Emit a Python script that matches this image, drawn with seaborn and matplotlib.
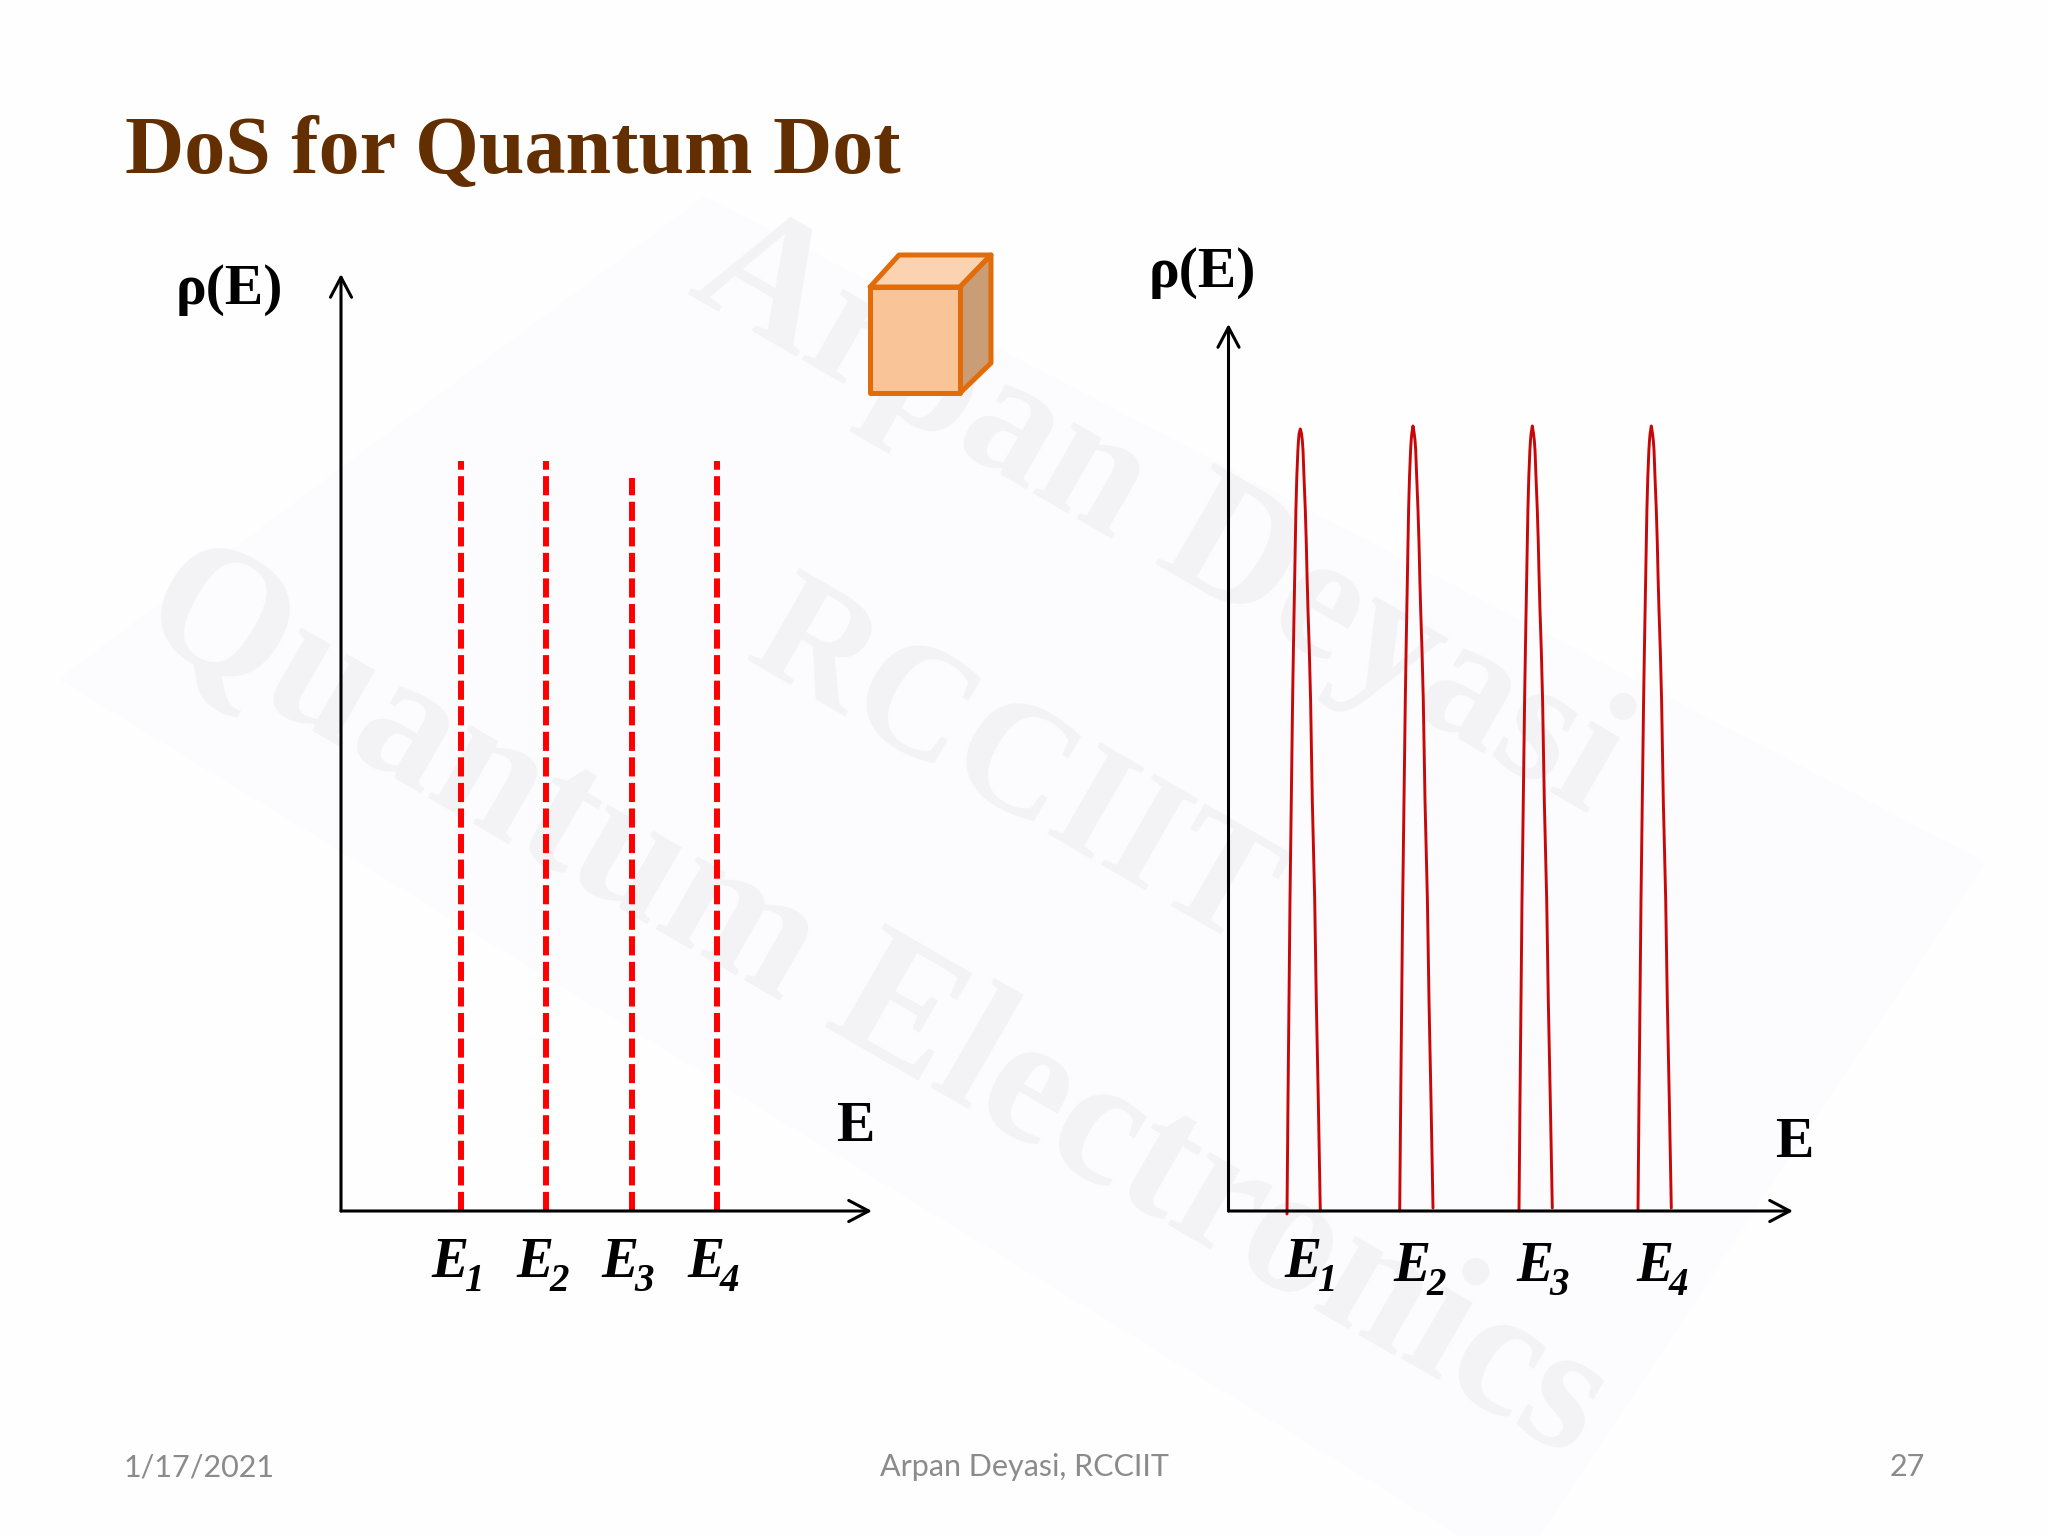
import pandas as pd
import matplotlib.pyplot as plt
import seaborn as sns
from matplotlib.patches import Polygon

# niveis discretos (painel esquerdo)
levels = [1, 2, 3, 4]
level_heights = [1.0, 1.0, 0.977, 1.0]

# picos (painel direito)
peak_centers = [0.718, 1.845, 3.038, 4.228]
peak_tops = [1.043, 1.047, 1.047, 1.047]
left_base = [-0.004, 0.0, 0.0, 0.0]
right_base = [0.0, 0.004, 0.004, 0.004]
profile_rho = [0.148, 0.281, 0.415, 0.548, 0.681, 0.748, 0.801, 0.845, 0.891, 0.935, 0.979, 1.015, 1.028, 1.037]
profile_left = [-0.123, -0.113, -0.103, -0.090, -0.077, -0.069, -0.062, -0.056, -0.050, -0.044, -0.035, -0.024, -0.018, -0.012]
profile_right = [0.180, 0.160, 0.144, 0.120, 0.103, 0.090, 0.077, 0.068, 0.060, 0.050, 0.037, 0.027, 0.020, 0.012]
base_left = -0.133
base_right = 0.200

level_labels = ["1", "2", "3", "4"]
title = "DoS for Quantum Dot"
footer_date = "1/17/2021"
footer_author = "Arpan Deyasi, RCCIIT"
footer_page = "27"

W, H = 2048, 1536
sns.set_theme(style="white")
plt.rcParams["font.family"] = ["Liberation Serif", "DejaVu Serif"]


def px_axes(fig, left, top, right, bottom):
    ax = fig.add_axes([left / W, 1 - bottom / H, (right - left) / W, (bottom - top) / H])
    ax.patch.set_alpha(0)
    ax.set_xticks([])
    ax.set_yticks([])
    sns.despine(ax=ax, left=True, bottom=True)
    return ax


def arrow(ax, start, end):
    ax.annotate("", xy=end, xytext=start, xycoords="axes fraction", textcoords="axes fraction",
                annotation_clip=False,
                arrowprops=dict(arrowstyle="->,head_length=0.72,head_width=0.38", mutation_scale=20,
                                lw=2.2, color="black", shrinkA=0, shrinkB=0))


fig = plt.figure(figsize=(W / 100, H / 100), dpi=100, facecolor="#fefefe")

# fundo: marca d'agua, titulo, cubo, rodape (em pixels)
bg = px_axes(fig, 0, 0, W, H)
bg.set_xlim(0, W)
bg.set_ylim(H, 0)
bg.add_patch(Polygon([(59, 679), (705, 196), (1985, 862), (1540, 1536), (1460, 1536)],
                     closed=True, fc="#fcfbfd", ec="none", zorder=0))
wm = dict(color="#f3f2f4", fontweight="bold", rotation=-30, rotation_mode="anchor",
          ha="center", va="center", zorder=0.5)
bg.text(875, 1005, "Quantum Electronics", fontsize=131, **wm)
bg.text(1012, 770, "RCCIIT", fontsize=115, **wm)
bg.text(1159, 516, "Arpan Deyasi", fontsize=128, **wm)

bg.text(125, 172.7, title, fontsize=59, fontweight="bold", color="#632F00", va="baseline")

edge = dict(ec="#E36C0A", lw=3.6, joinstyle="round", zorder=2)
bg.add_patch(Polygon([(870, 287), (899, 255), (991, 255), (960, 287)], fc="#FBD3B0", **edge))
bg.add_patch(Polygon([(960, 287), (991, 255), (991, 363), (960, 393)], fc="#C99E77", **edge))
bg.add_patch(Polygon([(870, 287), (960, 287), (960, 393), (870, 393)], fc="#F9C498", **edge))

foot = dict(fontsize=22, color="#8B8B8B", family="Lato", va="baseline")
bg.text(124, 1476, footer_date, ha="left", **foot)
bg.text(1025, 1476, footer_author, ha="center", **foot)
bg.text(1925, 1476, footer_page, ha="right", **foot)

# painel esquerdo
ax1 = px_axes(fig, 341, 274, 872, 1211)
df1 = pd.DataFrame({
    "E": [e for e in levels for _ in range(2)],
    "rho": [v for h in level_heights for v in (0, h)],
    "level": [e for e in levels for _ in range(2)],
})
sns.lineplot(data=df1, x="E", y="rho", units="level", estimator=None, sort=False, ax=ax1,
             color="#FF0000", lw=4.3, linestyle=(0, (3.2, 1.08)))
ax1.set_xlim(-0.406, 5.817)
ax1.set_ylim(0, 1.249)
ax1.set_xlabel("")
ax1.set_ylabel("")
arrow(ax1, (0, 0), (1, 0))
arrow(ax1, (0, 0), (0, 1))

# painel direito
ax2 = px_axes(fig, 1228.5, 324, 1793, 1211)
rows = []
for i, c in enumerate(peak_centers):
    xs = [base_left] + profile_left + [0.0] + profile_right[::-1] + [base_right]
    ys = [left_base[i]] + profile_rho + [peak_tops[i]] + profile_rho[::-1] + [right_base[i]]
    for x, y in zip(xs, ys):
        rows.append({"E": c + x, "rho": y, "peak": i})
df2 = pd.DataFrame(rows)
sns.lineplot(data=df2, x="E", y="rho", units="peak", estimator=None, sort=False, ax=ax2,
             color="#C80808", lw=2.1, clip_on=False)
ax2.set_xlim(0, 5.645)
ax2.set_ylim(0, 1.183)
ax2.set_xlabel("")
ax2.set_ylabel("")
arrow(ax2, (0, 0), (1, 0))
arrow(ax2, (0, 0), (0, 1))

# rotulos
lab = dict(color="black", fontweight="bold", style="italic", va="baseline")
for x, s in zip([431, 516, 601, 687], level_labels):
    bg.text(x, 1277, "E", fontsize=40, **lab)
    bg.text(x + 33, 1291, s, fontsize=28, **lab)
for x, y, s in zip([1284, 1393, 1516, 1636], [1277, 1281, 1281, 1281], level_labels):
    bg.text(x, y, "E", fontsize=40, **lab)
    bg.text(x + 33, y + 14, s, fontsize=28, **lab)

ax_lab = dict(fontsize=41.5, fontweight="bold", color="black", va="baseline")
bg.text(836, 1141, "E", **ax_lab)
bg.text(1775, 1157, "E", **ax_lab)
bg.text(176, 304, "ρ(E)", **ax_lab)
bg.text(1149, 287, "ρ(E)", **ax_lab)

fig.savefig("out.png", dpi=100, facecolor=fig.get_facecolor())
